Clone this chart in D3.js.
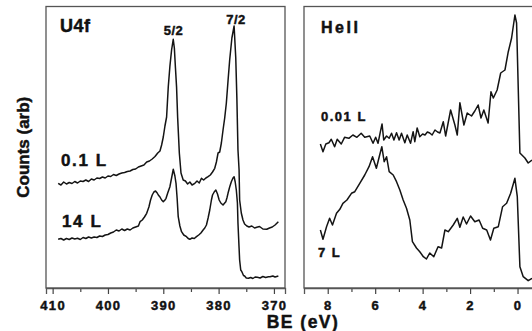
<!DOCTYPE html>
<html lang="en">
<head>
<meta charset="UTF-8">
<title>U4f and HeII spectra</title>
<script src="https://d3js.org/d3.v7.min.js"></script>
<style>
  body { margin: 0; background: #fff; }
  text { font-family: "Liberation Sans", Arial, sans-serif; font-weight: bold; fill: #111; stroke: #111; stroke-width: 0.45px; }
  .trace { fill: none; stroke: #141414; stroke-width: 1.5; stroke-linejoin: round; }
  .frame { fill: none; stroke: #555; stroke-width: 1.3; }
  .tick-lbl { font-size: 13px; letter-spacing: 1.3px; }
</style>
</head>
<body>
<div id="chart"></div>
<script>
// U4f core level, binding energy (eV) vs counts (arb)
const u4fLow = [ // 0.1 L
  [409.0,104.7],[408.5,103],[408.0,106],[407.5,104],[407.0,105.5],[406.5,104.5],[406.0,106.5],[405.5,105],
  [405.0,107],[404.5,106.5],[404.0,108],[403.5,106.5],[403.0,109],[402.5,108],[402.0,110],[401.5,109.5],
  [401.0,111],[400.5,110],[400.0,112],[399.5,111.5],[399.0,113.5],[398.5,112.5],[398.0,114],[397.5,115],
  [397.0,115.5],[396.5,116.5],[396.0,117],[395.5,118.5],[395.0,119],[394.5,121],[394.0,122],[393.5,123],
  [393.0,126],[392.5,127],[392.0,129],[391.5,131.5],[391.0,135],[390.6,137],[390.3,143],[390.0,151],
  [389.7,162],[389.4,171],[389.1,201],[388.8,222],[388.5,238],[388.2,248.7],[388.0,240],[387.8,220],
  [387.6,201],[387.4,170],[387.1,135],[386.8,115],[386.4,108],[386.0,107],[385.6,104],[385.2,106],
  [384.8,103],[384.3,104.7],[383.9,107],[383.5,105],[383.1,109.7],[382.7,108],[382.3,110],[381.9,111.3],
  [381.5,113],[381.1,116],[380.7,119.7],[380.4,126],[380.1,135],[379.8,136],[379.5,145],[379.2,158],
  [378.9,170],[378.6,185],[378.3,207],[378.0,228],[377.6,250],[377.2,262],[376.9,230],[376.7,190],
  [376.5,138],[376.3,118],[376.2,88],[375.9,75],[375.6,68],[375.3,64],[374.9,62],[374.5,61],[374.0,62],
  [373.5,60],[373.1,60.7],[372.6,61.5],[372.0,59],[371.3,58.7],[370.8,60],[370.3,61],[369.8,63],[369.2,66.3]
];
const u4fHigh = [ // 14 L
  [409.0,48.7],[408.5,49.5],[408.0,48],[407.5,49.5],[407.0,48.5],[406.5,50],[406.0,49],[405.5,49.7],
  [405.0,48.5],[404.5,50.5],[404.0,49.5],[403.5,51],[403.0,50],[402.5,51],[402.0,50.5],[401.5,52],
  [401.0,51.5],[400.5,53],[400.0,53.5],[399.5,55],[399.0,56],[398.5,58],[398.0,57],[397.5,59],
  [397.0,57.5],[396.5,59],[396.0,58],[395.5,60],[395.0,61],[394.5,62],[394.2,66.3],[393.8,68],
  [393.4,71],[393.0,74.7],[392.6,81],[392.3,88],[392.0,93],[391.7,96],[391.4,97],[391.1,95],
  [390.9,93],[390.6,91],[390.3,88],[390.0,86.3],[389.7,88],[389.5,89.7],[389.2,95],[388.8,101.3],
  [388.5,110],[388.2,118.7],[387.9,112],[387.7,104.7],[387.5,90],[387.3,71.3],[387.0,62],[386.7,56.3],
  [386.3,53],[385.8,51.3],[385.5,49.5],[385.2,48.7],[384.8,50],[384.4,49.5],[384.0,51.3],[383.6,53],
  [383.2,55],[382.8,58],[382.5,60],[382.2,63],[381.9,70],[381.6,78],[381.3,88],[381.1,93],[380.8,96],
  [380.5,98],[380.2,94],[379.9,88],[379.6,85],[379.2,83],[378.9,85],[378.7,86.3],[378.5,90],[378.3,94.7],
  [378.0,101],[377.7,106.3],[377.4,110],[377.2,111.3],[377.0,106],[376.8,98],[376.6,85],[376.5,64.7],
  [376.3,40],[376.2,28],[376.0,18],[375.8,16.3],[375.5,12.5],[375.3,12],[375.0,10],[374.6,9.7],
  [374.2,10.5],[373.8,9.5],[373.4,11],[373.0,10.7],[372.5,10],[372.0,11.5],[371.5,10.5],[371.0,11.3],
  [370.7,11.3],[370.2,12],[369.8,11],[369.2,12]
];

// HeII valence band
const heLow = [ // 0.01 L
  [8.31,144],[8.2,136.3],[8.08,144],[7.95,145.3],[7.85,148.7],[7.71,141.3],[7.6,148.7],[7.43,144],
  [7.29,150.7],[7.11,149.7],[6.94,153],[6.77,150.7],[6.59,154.7],[6.44,150.7],[6.23,152],[6.09,144.7],
  [5.98,150.7],[5.88,144.7],[5.78,156.3],[5.71,164],[5.64,148],[5.52,152],[5.41,149.7],[5.31,154.7],
  [5.21,148],[5.1,155.3],[4.99,148],[4.89,154.7],[4.75,145.3],[4.65,153],[4.51,144.7],[4.4,156.3],
  [4.33,146.3],[4.23,160],[4.12,151.3],[4.0,154],[3.9,153],[3.8,156],[3.7,155],[3.6,153],[3.48,158],
  [3.37,156],[3.27,155],[3.13,166.3],[3.03,152],[2.82,178],[2.64,163],[2.54,153],[2.43,185.3],
  [2.26,163],[2.12,175],[1.94,172],[1.8,177],[1.66,183],[1.54,170],[1.42,178],[1.24,165],[1.12,196.3],
  [1.02,190],[0.86,198],[0.71,215],[0.53,218],[0.39,236.3],[0.25,250],[0.11,273],[0.04,265],
  [-0.1,135],[-0.31,130],[-0.45,125],[-0.61,128]
];
const heHigh = [ // 7 L
  [8.31,58],[8.2,48.7],[8.05,61.3],[7.92,69.7],[7.8,63],[7.63,74.7],[7.49,78.7],[7.36,84.7],[7.19,88],
  [7.0,94.7],[6.86,96.3],[6.65,104.7],[6.44,113],[6.26,121.3],[6.11,131.3],[5.95,119.7],[5.81,133],
  [5.72,141.3],[5.62,126.3],[5.52,131.3],[5.41,116.3],[5.24,113],[5.1,106.3],[4.96,98],[4.82,88],
  [4.68,79.7],[4.54,68],[4.43,46.3],[4.26,40],[4.12,36.3],[3.97,31.3],[3.84,29],[3.7,35],[3.53,31.3],
  [3.35,41.3],[3.2,40],[3.06,58],[2.92,56.3],[2.71,63],[2.54,69.7],[2.43,60.7],[2.29,71],[2.15,64],
  [1.98,72],[1.8,66.3],[1.62,68],[1.47,59.7],[1.3,58],[1.14,48],[1.0,59.7],[0.81,61.3],[0.63,81.3],
  [0.46,84.7],[0.29,94.7],[0.11,109.7],[0.01,91.3],[-0.1,21.3],[-0.24,11.3],[-0.45,7.3],[-0.61,9.7]
];

const u4fMajor = [410, 400, 390, 380, 370];
const u4fMinor = [405, 395, 385, 375];
const heMajor = [8, 6, 4, 2, 0];
const heMinor = [7, 5, 3, 1];

const width = 532, height = 331;
const plotTop = 6.5, plotBottom = 288;

const svg = d3.select("#chart").append("svg")
  .attr("width", width).attr("height", height)
  .attr("viewBox", [0, 0, width, height]);

const y = d3.scaleLinear().domain([0, 281.5]).range([plotBottom, plotTop]);

function panel(x0, x1, domain, major, minor, series, texts) {
  const x = d3.scaleLinear().domain(domain).range([x0, x1]);
  const g = svg.append("g");

  g.append("rect").attr("class", "frame")
    .attr("x", x0).attr("y", plotTop).attr("width", x1 - x0).attr("height", plotBottom - plotTop);

  g.append("g").attr("transform", `translate(0,${plotBottom})`)
    .call(d3.axisBottom(x).tickValues(minor).tickSize(4).tickFormat(""))
    .call(a => a.select(".domain").remove())
    .call(a => a.selectAll("line").attr("stroke", "#444").attr("stroke-width", 1.2));

  g.append("g").attr("transform", `translate(0,${plotBottom})`)
    .call(d3.axisBottom(x).tickValues(major).tickSize(6).tickPadding(4).tickFormat(d3.format("d")))
    .call(a => a.select(".domain").attr("stroke", "#555").attr("stroke-width", 1.3))
    .call(a => a.selectAll("line").attr("stroke", "#444").attr("stroke-width", 1.2))
    .call(a => a.selectAll("text").attr("class", "tick-lbl").attr("dy", "0.9em"));

  const line = d3.line().x(d => x(d[0])).y(d => y(d[1]));
  series.forEach(s => g.append("path").attr("class", "trace").attr("d", line(s)));

  texts.forEach(t => g.append("text")
    .attr("x", t.x).attr("y", t.y)
    .attr("text-anchor", t.anchor || "start")
    .style("font-size", t.size + "px")
    .style("letter-spacing", (t.ls || 0) + "px")
    .text(t.label));
  return x;
}

panel(46, 285, [411.2, 368.0], u4fMajor, u4fMinor, [u4fLow, u4fHigh], [
  { label: "U4f", x: 60, y: 32, size: 18, ls: 0.5 },
  { label: "5/2", x: 173.5, y: 35, size: 13, anchor: "middle", ls: 0.5 },
  { label: "7/2", x: 236, y: 23.5, size: 13, anchor: "middle", ls: 0.5 },
  { label: "0.1 L", x: 61, y: 166, size: 17, ls: 1.6 },
  { label: "14 L", x: 62, y: 227, size: 17, ls: 1.6 }
]);

panel(304, 546, [9.0, -1.2], heMajor, heMinor, [heLow, heHigh], [
  { label: "HeII", x: 321, y: 32.5, size: 16, ls: 2.5 },
  { label: "0.01 L", x: 321, y: 120.5, size: 13, ls: 1.5 },
  { label: "7 L", x: 318, y: 257, size: 13, ls: 1.5 }
]);

svg.append("text")
  .attr("transform", `translate(29,${(plotTop + plotBottom) / 2}) rotate(-90)`)
  .attr("text-anchor", "middle")
  .style("font-size", "17px")
  .text("Counts (arb)");

svg.append("text")
  .attr("x", 303).attr("y", 327.5)
  .attr("text-anchor", "middle")
  .style("font-size", "17.5px")
  .style("letter-spacing", "1.5px")
  .text("BE (eV)");
</script>
</body>
</html>
